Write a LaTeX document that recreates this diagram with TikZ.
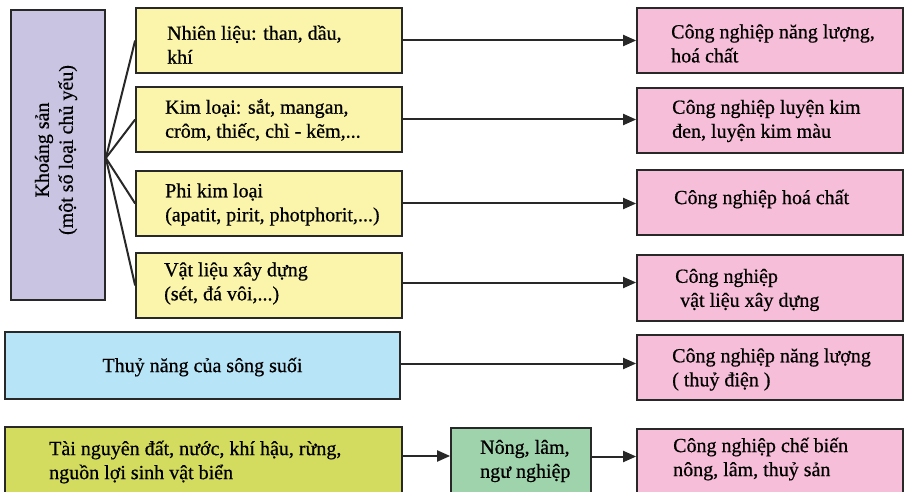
\documentclass[tikz,border=0pt]{standalone}
\usepackage{fontspec}
\setmainfont{Liberation Serif}[FakeBold=0.6]
\usetikzlibrary{arrows.meta,calc}
\definecolor{cpur}{RGB}{200,196,226}
\definecolor{cyel}{RGB}{250,245,170}
\definecolor{cpink}{RGB}{246,190,216}
\definecolor{ccyan}{RGB}{184,228,248}
\definecolor{colive}{RGB}{212,220,96}
\definecolor{cgreen}{RGB}{158,211,172}
\definecolor{cline}{RGB}{40,40,40}
\begin{document}
\begin{tikzpicture}[x=1pt,y=-1pt,
  box/.style={draw=cline, line width=1.7pt, inner sep=0pt},
  ybox/.style={box, fill=cyel, minimum width=266pt, minimum height=65pt},
  pbox/.style={box, fill=cpink, minimum width=266pt, minimum height=65pt},
  txt/.style={font=\rmfamily\fontsize{20}{24}\selectfont, align=left, inner sep=0pt, text=black, anchor=west},
  ln/.style={draw=cline, line width=2pt},
  arr/.style={ln, -{Triangle[length=13pt,width=11pt]}}]
\useasboundingbox (0,0) rectangle (906,492);
% boxes
\node[box, fill=cpur, minimum width=94pt, minimum height=290pt] (pur) at (58,155) {};
\node[ybox] (y1) at (269,40.5) {};
\node[ybox] (y2) at (269,119.5) {};
\node[ybox] (y3) at (269,203.5) {};
\node[ybox] (y4) at (269,285.5) {};
\node[pbox] (p1) at (770,40.5) {};
\node[pbox] (p2) at (770,120.5) {};
\node[pbox] (p3) at (770,202.5) {};
\node[pbox, minimum height=66pt] (p4) at (770,288) {};
\node[box, fill=ccyan, minimum width=395pt, minimum height=67pt] (cy) at (202.5,365.5) {};
\node[pbox] (p5) at (770,367.5) {};
\node[box, fill=colive, minimum width=397pt, minimum height=73pt] (ol) at (203.5,463.5) {};
\node[box, fill=cgreen, minimum width=140pt, minimum height=72pt] (gr) at (521,464) {};
\node[pbox, minimum height=71pt] (p6) at (770,464.5) {};
% texts
\node[txt, anchor=center, align=center, rotate=90] (tpur) at (56,150) {Khoáng sản\\(một số loại chủ yếu)};
\node[txt] (ty1) at (167,44.5) {Nhiên liệu: than, dầu,\\khí};
\node[txt] (ty2) at (165,120) {Kim loại: sắt, mangan,\\crôm, thiếc, chì - kẽm,...};
\node[txt] (ty3) at (165,204.5) {Phi kim loại\\(apatit, pirit, photphorit,...)};
\node[txt] (ty4) at (164,283.5) {Vật liệu xây dựng\\(sét, đá vôi,...)};
\node[txt] (tp1) at (671,43.5) {Công nghiệp năng lượng,\\hoá chất};
\node[txt] (tp2) at (672,121) {Công nghiệp luyện kim\\đen, luyện kim màu};
\node[txt] (tp3) at (674,199) {Công nghiệp hoá chất};
\node[txt] (tp4) at (675,290) {Công nghiệp\\\hspace*{5pt}vật liệu xây dựng};
\node[txt, anchor=center] (tcy) at (202.5,367) {Thuỷ năng của sông suối};
\node[txt] (tp5) at (672,369.5) {Công nghiệp năng lượng\\( thuỷ điện )};
\node[txt] (tol) at (49,462) {Tài nguyên đất, nước, khí hậu, rừng,\\nguồn lợi sinh vật biển};
\node[txt] (tgr) at (480,461) {Nông, lâm,\\ngư nghiệp};
\node[txt] (tp6) at (673,459) {Công nghiệp chế biến\\nông, lâm, thuỷ sản};
% fan lines
\foreach \t in {y1,y2,y3,y4}
  \draw[ln] ([yshift=-3pt]pur.east) -- (\t.west);
% arrows
\draw[arr] (y1.east) -- (y1.east -| p1.west);
\draw[arr] (y2.east) -- (y2.east -| p2.west);
\draw[arr] (y3.east) -- (y3.east -| p3.west);
\draw[arr] ([yshift=3pt]y4.east) -- ([yshift=3pt]y4.east -| p4.west);
\draw[arr] ([yshift=2pt]cy.east) -- ([yshift=2pt]cy.east -| p5.west);
\draw[arr] ([yshift=7.5pt]ol.east) -- ([yshift=7.5pt]ol.east -| gr.west);
\draw[arr] ([yshift=7.5pt]gr.east) -- ([yshift=7.5pt]gr.east -| p6.west);
\end{tikzpicture}
\end{document}
